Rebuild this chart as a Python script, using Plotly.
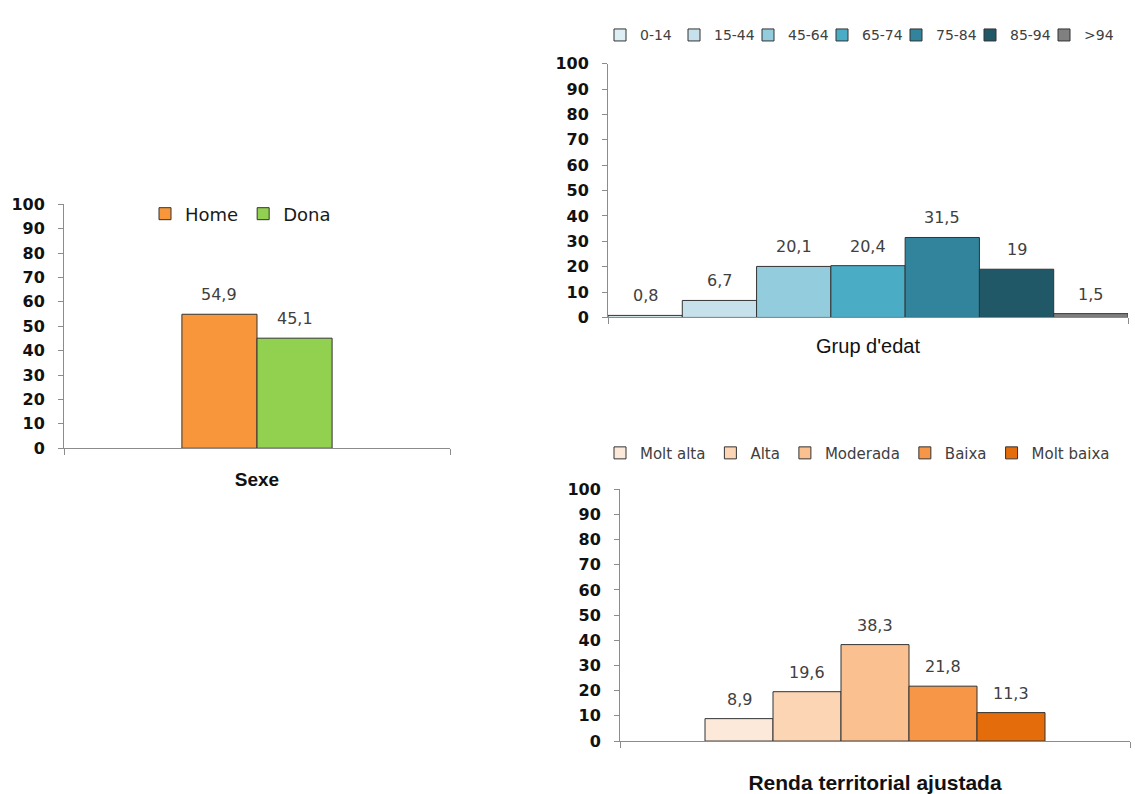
import plotly.graph_objects as go

# --- Sexe ---
sexe_labels = ["Home", "Dona"]
sexe_values = [54.9, 45.1]
sexe_colors = ["#F7963A", "#92D050"]

# --- Grup d'edat ---
edat_labels = ["0-14", "15-44", "45-64", "65-74", "75-84", "85-94", ">94"]
edat_values = [0.8, 6.7, 20.1, 20.4, 31.5, 19, 1.5]
edat_colors = ["#DDEEF4", "#C6E0EC", "#93CDDD", "#4BACC6", "#31849B", "#215868", "#808080"]

# --- Renda territorial ajustada ---
renda_labels = ["Molt alta", "Alta", "Moderada", "Baixa", "Molt baixa"]
renda_values = [8.9, 19.6, 38.3, 21.8, 11.3]
renda_colors = ["#FDE9D9", "#FCD5B5", "#FAC090", "#F79646", "#E46C0A"]

y_ticks = list(range(0, 101, 10))

W, H = 1135, 794
ARIAL = "Liberation Sans"
WIDE = "DejaVu Sans"
AXIS_GRAY = "#8C8C8C"
LABEL_GRAY = "#404040"


def fmt(v):
    return f"{v:g}".replace(".", ",")


fig = go.Figure()

panels = [
    # (labels, values, colors, xaxis, yaxis, legend)
    (sexe_labels, sexe_values, sexe_colors, "x", "y", "legend"),
    (edat_labels, edat_values, edat_colors, "x2", "y2", "legend2"),
    (renda_labels, renda_values, renda_colors, "x3", "y3", "legend3"),
]

annotations = []
for labels, values, colors, xa, ya, lg in panels:
    for i, (lab, val, col) in enumerate(zip(labels, values, colors)):
        fig.add_trace(go.Bar(
            x=[i], y=[val], width=1, name=lab,
            marker=dict(color=col, line=dict(color="#333333", width=1)),
            xaxis=xa, yaxis=ya, legend=lg,
            hoverinfo="skip",
        ))
        annotations.append(dict(
            x=i, y=val, xref=xa, yref=ya, text=fmt(val),
            showarrow=False, yanchor="bottom", yshift=8,
            font=dict(family=WIDE, size=16, color=LABEL_GRAY),
        ))


def xaxis(domain, rng, anchor, title, tfont, standoff):
    return dict(
        domain=domain, range=rng, anchor=anchor,
        showgrid=False, zeroline=False,
        showline=True, linecolor=AXIS_GRAY, linewidth=1,
        tickvals=rng, ticks="outside", ticklen=6, tickcolor=AXIS_GRAY,
        showticklabels=False, fixedrange=True,
        title=dict(text=title, font=tfont, standoff=standoff),
    )


def yaxis(domain, anchor):
    return dict(
        domain=domain, range=[0, 100], tickvals=y_ticks, anchor=anchor,
        showgrid=False, zeroline=False,
        showline=True, linecolor=AXIS_GRAY, linewidth=1,
        ticks="outside", ticklen=5, tickcolor=AXIS_GRAY,
        ticklabelstandoff=10,
        tickfont=dict(family=WIDE, size=16, color="#111111", weight="bold"),
        fixedrange=True,
    )


def px_x(a, b):
    return [a / W, b / W]


def px_y(bottom, top):
    return [1 - bottom / H, 1 - top / H]


fig.update_layout(
    width=W, height=H,
    margin=dict(l=0, r=0, t=0, b=0),
    paper_bgcolor="white", plot_bgcolor="white",
    barmode="overlay",
    font=dict(family=WIDE, color="#222222"),
    xaxis=xaxis(px_x(64, 450), [-2.07, 3.07], "y", "Sexe",
                dict(family=ARIAL, size=19, color="#111111", weight="bold"), 18),
    yaxis=yaxis(px_y(450, 200), "x"),
    xaxis2=xaxis(px_x(608, 1128), [-0.5, 6.5], "y2", "Grup d'edat",
                 dict(family=ARIAL, size=20, color="#111111"), 15),
    yaxis2=yaxis(px_y(316, 56), "x2"),
    xaxis3=xaxis(px_x(620, 1130), [-1.75, 5.75], "y3", "Renda territorial ajustada",
                 dict(family=ARIAL, size=21, color="#111111", weight="bold"), 29),
    yaxis3=yaxis(px_y(750, 492), "x3"),
    legend=dict(
        orientation="h", x=145 / W, xanchor="left", y=1 - 210 / H, yanchor="middle",
        font=dict(family=WIDE, size=18, color="#1A1A1A"),
        bgcolor="rgba(0,0,0,0)", traceorder="normal",
    ),
    legend2=dict(
        orientation="h", x=600 / W, xanchor="left", y=1 - 27 / H, yanchor="middle",
        font=dict(family=WIDE, size=14, color=LABEL_GRAY),
        bgcolor="rgba(0,0,0,0)", traceorder="normal", entrywidth=29,
    ),
    legend3=dict(
        orientation="h", x=600 / W, xanchor="left", y=1 - 455 / H, yanchor="middle",
        font=dict(family=WIDE, size=15, color=LABEL_GRAY),
        bgcolor="rgba(0,0,0,0)", traceorder="normal",
    ),
    annotations=annotations,
    showlegend=True,
)

fig.write_html("out.html", config={"displayModeBar": False})
